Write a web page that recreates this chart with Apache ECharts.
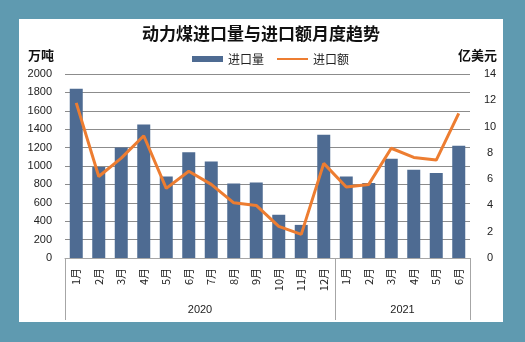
<!DOCTYPE html>
<html>
<head>
<meta charset="utf-8">
<script src="https://cdn.jsdelivr.net/npm/echarts@6/dist/echarts.min.js"></script>
<style>
html,body{margin:0;padding:0;width:525px;height:342px;background:#5F9AB0;overflow:hidden;}
#chart{position:absolute;left:19px;top:19px;width:484px;height:303px;background:#ffffff;}
</style>
</head>
<body>
<div id="chart"></div>
<script>
var titleText = '动力煤进口量与进口额月度趋势';
var months = ['1月','2月','3月','4月','5月','6月','7月','8月','9月','10月','11月','12月','1月','2月','3月','4月','5月','6月'];
var years = ['2020','2021'];
var monthsPerYear = [12, 6];
var importVolume = [1840, 990, 1200, 1450, 885, 1150, 1050, 810, 820, 470, 360, 1340, 885, 815, 1080, 960, 925, 1220];
var importValue = [11.8, 6.2, 7.6, 9.3, 5.3, 6.6, 5.6, 4.2, 4.0, 2.4, 1.8, 7.2, 5.4, 5.6, 8.35, 7.65, 7.45, 11.0];
var leftTicks = {min: 0, max: 2000, interval: 200};
var rightTicks = {min: 0, max: 14, interval: 2};

// build year group axis (boundary points 0..N)
var groupData = [];
var boundaries = [0];
var acc = 0;
for (var i = 0; i <= months.length; i++) groupData.push('');
for (var y = 0; y < years.length; y++) {
  var mid = acc + monthsPerYear[y] / 2;
  groupData[mid] = years[y];
  acc += monthsPerYear[y];
  boundaries.push(acc);
}

var FONT = "'Liberation Sans','Noto Sans CJK SC',sans-serif";
var CJK = "'Noto Sans CJK SC',sans-serif";
var chart = echarts.init(document.getElementById('chart'));
chart.setOption({
  animation: false,
  title: {
    text: titleText, left: 'center', top: 6, padding: 0,
    textStyle: {fontFamily: CJK, fontSize: 17, fontWeight: 'bold', color: '#111'}
  },
  legend: {
    left: 173, top: 34, padding: 0, itemGap: 12,
    itemWidth: 31, itemHeight: 6,
    textStyle: {fontFamily: CJK, fontSize: 12, color: '#222'},
    data: [{name: '进口量', icon: 'rect'}, {name: '进口额', itemStyle: {color: 'rgba(0,0,0,0)', borderWidth: 0, opacity: 0}}]
  },
  grid: {left: 46, right: 33, top: 55, bottom: 64},
  xAxis: [{
    type: 'category', data: months, position: 'bottom',
    axisLine: {show: true, lineStyle: {color: '#A6A6A6', width: 1}},
    axisTick: {show: false},
    axisLabel: {rotate: 90, margin: 10, interval: 0, fontSize: 11, fontFamily: CJK, color: '#222'}
  }, {
    type: 'category', data: groupData, position: 'bottom', boundaryGap: false,
    axisLine: {show: false},
    axisTick: {show: true, length: 62, lineStyle: {color: '#A6A6A6', width: 1},
      interval: function (idx) { return boundaries.indexOf(idx) >= 0; }},
    axisLabel: {interval: 0, margin: 46, fontSize: 11, fontFamily: FONT, color: '#222'}
  }],
  yAxis: [{
    type: 'value', min: leftTicks.min, max: leftTicks.max, interval: leftTicks.interval,
    name: '万吨', nameLocation: 'end', nameGap: 12,
    nameTextStyle: {fontFamily: CJK, fontSize: 13, fontWeight: 'bold', color: '#111', align: 'right', padding: [0, 11, 0, 0]},
    axisLine: {show: false}, axisTick: {show: false},
    axisLabel: {margin: 13, fontSize: 11, fontFamily: FONT, color: '#222', formatter: function (v) { return String(v); }},
    splitLine: {lineStyle: {color: '#8C8C8C', width: 1}}
  }, {
    type: 'value', min: rightTicks.min, max: rightTicks.max, interval: rightTicks.interval,
    name: '亿美元', nameLocation: 'end', nameGap: 12,
    nameTextStyle: {fontFamily: CJK, fontSize: 13, fontWeight: 'bold', color: '#111', align: 'center', padding: [0, 0, 0, 15]},
    axisLine: {show: false}, axisTick: {show: false},
    axisLabel: {margin: 20, align: 'center', fontSize: 11, fontFamily: FONT, color: '#222', formatter: function (v) { return String(v); }},
    splitLine: {show: false}
  }],
  series: [{
    name: '进口量', type: 'bar', xAxisIndex: 0, yAxisIndex: 0, data: importVolume,
    barWidth: 13, itemStyle: {color: '#4E6B92'}
  }, {
    name: '进口额', type: 'line', xAxisIndex: 0, yAxisIndex: 1, data: importValue,
    symbol: 'none', lineStyle: {color: '#ED7D31', width: 3}, itemStyle: {color: '#ED7D31'}
  }]
});
</script>
</body>
</html>
